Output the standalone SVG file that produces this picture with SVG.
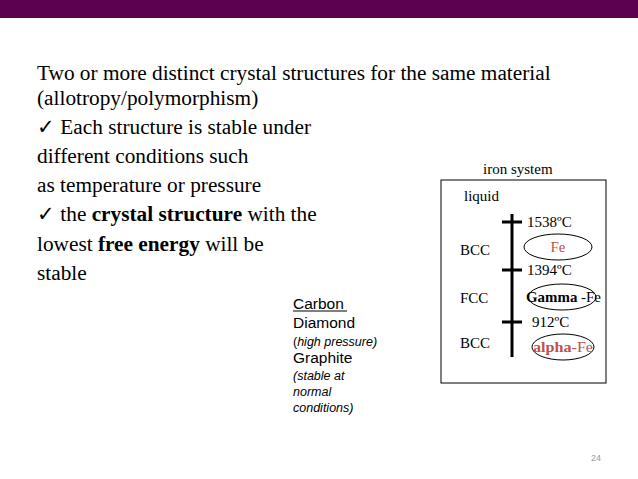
<svg xmlns="http://www.w3.org/2000/svg" width="638" height="479" viewBox="0 0 638 479">
<style>
.s{font-family:"Liberation Serif",serif;font-size:21.3px;fill:#000}
.d{font-family:"Liberation Serif",serif;font-size:15px;fill:#000}
.a{font-family:"Liberation Sans",sans-serif;font-size:15.5px;fill:#000}
.ai{font-family:"Liberation Sans",sans-serif;font-size:12.5px;font-style:italic;fill:#000}
.e{fill:none;stroke:#000;stroke-width:1}
</style>
<rect width="638" height="479" fill="#fff"/>
<rect x="0" y="0" width="638" height="18" fill="#5c0050"/>
<g id="text">
<text class="s" x="37" y="80">Two or more distinct crystal structures for the same material</text>
<text class="s" x="37" y="105">(allotropy/polymorphism)</text>
<text class="s" x="37" y="134">✓ Each structure is stable under</text>
<text class="s" x="37" y="163">different conditions such</text>
<text class="s" x="37" y="192">as temperature or pressure</text>
<text class="s" x="37" y="221">✓  the <tspan font-weight="bold">crystal structure</tspan> with the</text>
<text class="s" x="37" y="251">lowest <tspan font-weight="bold">free energy</tspan> will be</text>
<text class="s" x="37" y="280">stable</text>
</g>
<g id="carbon">
<text class="a" x="293" y="309">Carbon</text>
<line x1="293" y1="311" x2="347" y2="311" stroke="#000"/>
<text class="a" x="293" y="328">Diamond</text>
<text class="ai" x="293" y="346"><tspan font-style="normal">(</tspan>high pressure)</text>
<text class="a" x="293" y="363">Graphite</text>
<text class="ai" x="293" y="380">(stable at</text>
<text class="ai" x="293" y="396">normal</text>
<text class="ai" x="293" y="412">conditions)</text>
</g>
<g id="iron">
<text class="d" x="483" y="174">iron system</text>
<rect x="441" y="180" width="165" height="203" fill="none" stroke="#000"/>
<text class="d" x="464" y="201">liquid</text>
<text class="d" x="460" y="255">BCC</text>
<text class="d" x="460" y="303">FCC</text>
<text class="d" x="460" y="348">BCC</text>
<text class="d" x="527" y="227">1538ºC</text>
<text class="d" x="527" y="275">1394ºC</text>
<text class="d" x="532" y="327">912ºC</text>
<ellipse class="e" cx="558" cy="247" rx="34" ry="13"/>
<text class="d" x="558" y="252" text-anchor="middle" style="fill:#c0504d">Fe</text>
<ellipse class="e" cx="562" cy="297" rx="34" ry="13"/>
<text class="d" x="526" y="302" textLength="75" lengthAdjust="spacingAndGlyphs"><tspan font-weight="bold">Gamma</tspan> -Fe</text>
<ellipse class="e" cx="563" cy="347" rx="31" ry="13"/>
<text class="d" x="533" y="352" style="fill:#c0504d" textLength="60" lengthAdjust="spacingAndGlyphs"><tspan font-weight="bold">alpha</tspan>-Fe</text>
</g>
<g id="connectors" stroke="#000" stroke-width="3">
<line x1="512" y1="214" x2="512" y2="357"/>
<line x1="502" y1="222" x2="522" y2="222"/>
<line x1="502" y1="270" x2="522" y2="270"/>
<line x1="502" y1="322" x2="522" y2="322"/>
</g>
<text x="591" y="461" font-family="Liberation Sans,sans-serif" font-size="9" fill="#999">24</text>
</svg>
